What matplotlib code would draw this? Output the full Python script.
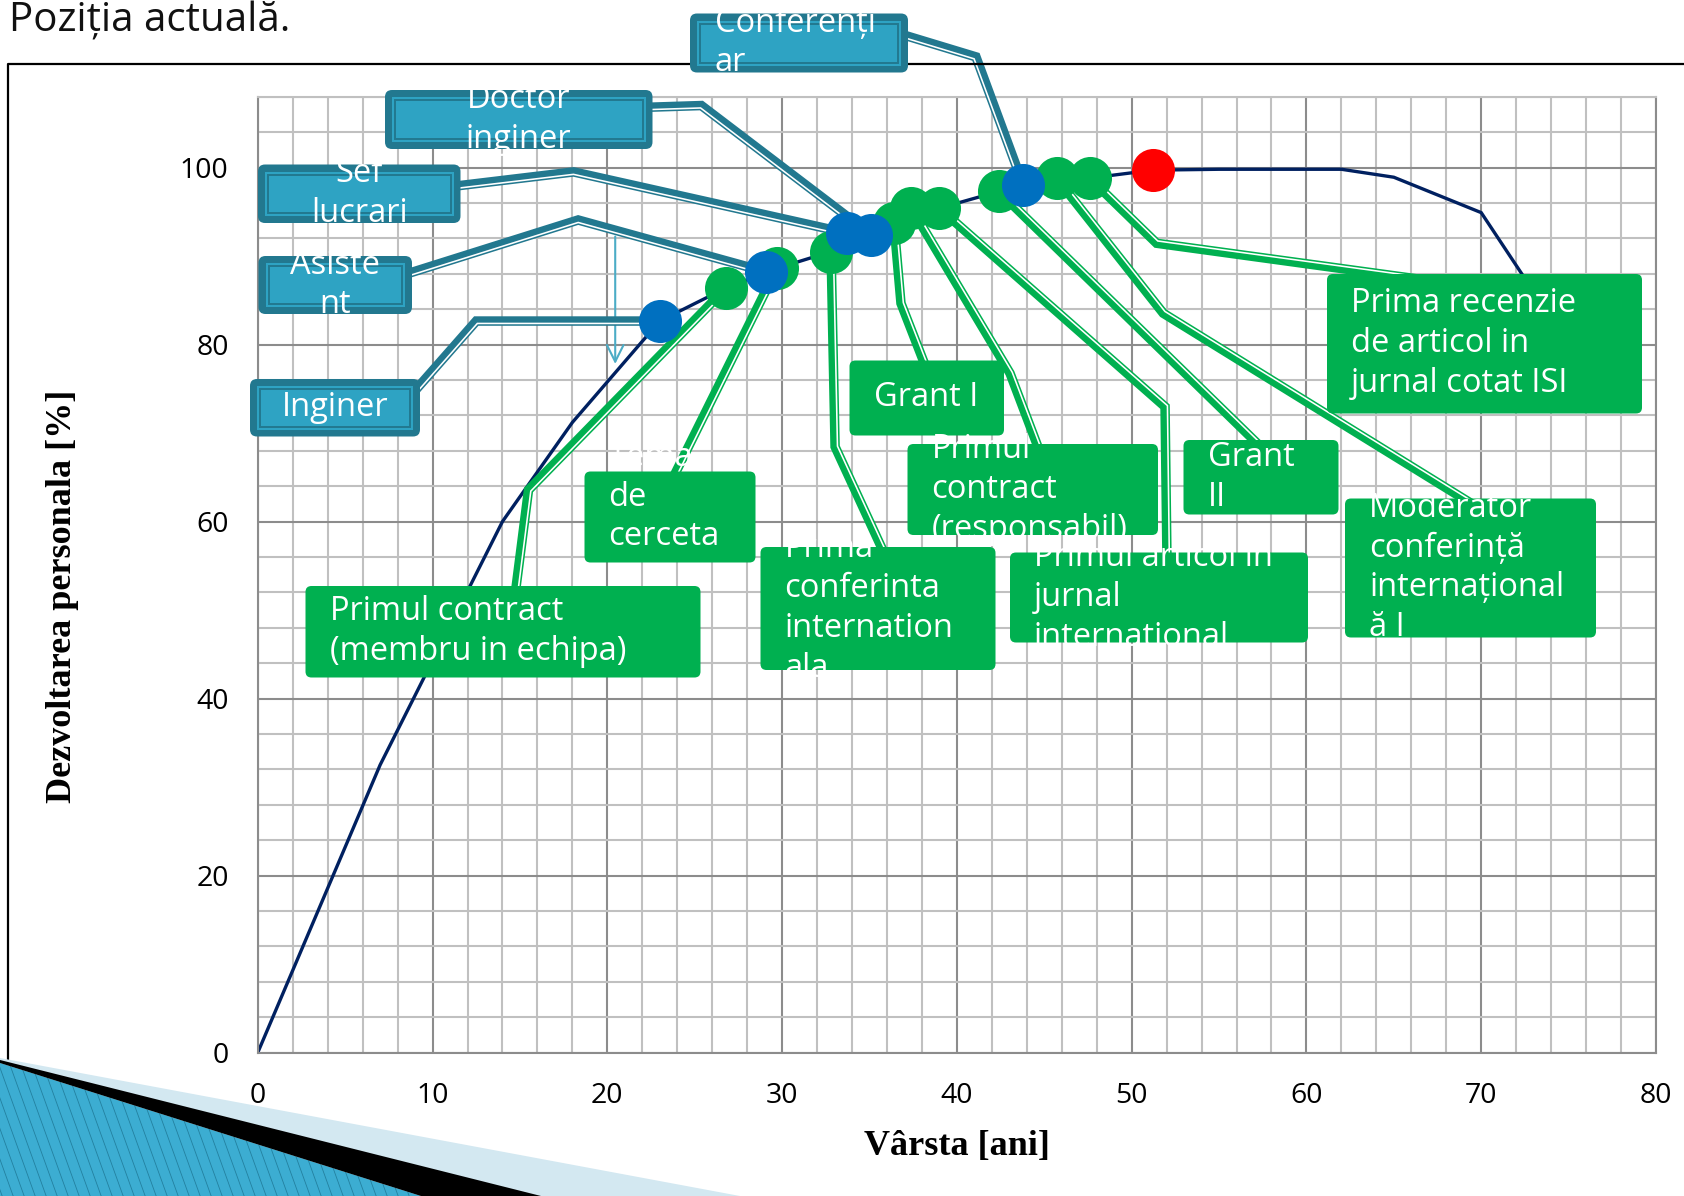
import numpy as np
import matplotlib
matplotlib.use("Agg")
import matplotlib.pyplot as plt
from matplotlib.patches import FancyBboxPatch, Polygon, Rectangle
from matplotlib.ticker import MultipleLocator

# ---------------- data ----------------
curve_age = [0, 7, 14, 18, 23.0, 26.8, 29.7, 32.8, 36.4, 37.4, 39.0, 42.4, 45.7, 47.6, 51.2, 55, 62, 65, 70, 75]
curve_dev = [0, 32.5, 60, 71.2, 82.65, 86.4, 88.6, 90.5, 93.7, 95.4, 95.4, 97.3, 98.8, 98.8, 99.7, 99.8, 99.8, 98.9, 94.9, 80]

career_labels = ["Inginer", "Asiste\nnt", "Sef\nlucrari", "Doctor\ninginer", "Conferenți\nar"]
career_age = [23.0, 29.1, 33.7, 35.1, 43.8]
career_dev = [82.65, 88.2, 92.6, 92.4, 98.0]
career_marker_of_label = [0, 1, 2, 3, 4]

event_labels = ["Primul contract\n(membru in echipa)", "Tema\nde\ncerceta\nre",
                "Prima\nconferinta\ninternation\nala", "Grant I",
                "Primul\ncontract\n(responsabil)", "Primul articol in\njurnal\ninternational",
                "Grant\nII", "Moderator\nconferință\ninternațional\nă I",
                "Prima recenzie\nde articol in\njurnal cotat ISI"]
event_age = [26.8, 29.7, 32.8, 36.4, 37.4, 39.0, 42.4, 45.7, 47.6]
event_dev = [86.4, 88.6, 90.5, 93.7, 95.4, 95.4, 97.3, 98.8, 98.8]

current_age = [51.2]
current_dev = [99.7]

arrow_age = 20.45
arrow_from, arrow_to = 92.2, 77.8

x_ticks = [0, 10, 20, 30, 40, 50, 60, 70, 80]
y_ticks = [0, 20, 40, 60, 80, 100]

# ---------------- layout (pixel boxes: left, top, right, bottom) ----------------
W, H = 1684, 1196
career_boxes = [(250, 379, 420, 436.5), (258.5, 256, 412, 314), (258, 164.5, 460.5, 223),
                (385, 90, 652.5, 149), (690, 13.5, 908, 72.5)]
career_center = [True, True, True, True, False]
# leader waypoints in data coords (start inside box, elbows)
career_paths = [[(9.0, 74.8), (12.5, 82.65)],
                [(8.4, 87.9), (18.33, 94.07)],
                [(11.3, 97.9), (18.07, 99.5)],
                [(22.2, 106.8), (25.38, 107.0)],
                [(36.74, 115.1), (41.09, 112.5)]]
event_boxes = [(305.5, 586, 700.5, 677.5), (584.5, 471.5, 755.5, 562.5), (760.5, 547, 995.5, 670),
               (849.5, 360.5, 1004, 435.5), (907.5, 444, 1158, 535), (1010, 552.5, 1308, 642.5),
               (1183.5, 440, 1338.5, 514.5), (1345, 498.5, 1596, 637.5), (1327, 274, 1642, 413.5)]
event_paths = [[(14.72, 51.7), (15.49, 63.56)],
               [(23.7, 64.7)],
               [(35.89, 56.2), (33.03, 68.45)],
               [(38.29, 77.1), (36.8, 84.66)],
               [(44.75, 67.85), (43.04, 76.75)],
               [(52.02, 55.65), (51.91, 72.97)],
               [(57.46, 68.3)],
               [(69.58, 61.86), (51.81, 83.53)],
               [(67.64, 87.06), (51.43, 91.44)]]

NAVY = "#002060"
GREEN = "#00b050"
BLUE = "#0070c0"
TEAL_D = "#22788f"
TEAL_L = "#2ea3c3"
BOXFONT = dict(family="Open Sans", size=23.5, color="white")
LSP = 1.27

fig = plt.figure(figsize=(W / 100, H / 100), dpi=100)
fig.patch.set_facecolor("white")

ax_l, ax_r, ax_t, ax_b = 257.8, 1656.0, 96.7, 1052.5
ax = fig.add_axes([ax_l / W, 1 - ax_b / H, (ax_r - ax_l) / W, (ax_b - ax_t) / H])
ax.set_zorder(1)
ax.set_xlim(0, 80)
ax.set_ylim(0, 108)
ax.set_xticks(x_ticks)
ax.set_yticks(y_ticks)
ax.xaxis.set_minor_locator(MultipleLocator(2))
ax.yaxis.set_minor_locator(MultipleLocator(4))
ax.grid(which="minor", color="#c0c0c0", lw=1.5, zorder=0)
ax.grid(which="major", color="#8c8c8c", lw=1.5, zorder=0.5)
ax.set_axisbelow(True)
ax.tick_params(which="both", length=0)
ax.tick_params(axis="y", pad=21)
ax.tick_params(axis="x", pad=21)
for lab in ax.get_xticklabels() + ax.get_yticklabels():
    lab.set_fontfamily("Open Sans")
    lab.set_fontsize(20.5)
for s in ["left", "bottom", "right"]:
    ax.spines[s].set_color("#8c8c8c")
    ax.spines[s].set_linewidth(1.5)
ax.spines["top"].set_color("#c0c0c0")
ax.spines["top"].set_linewidth(1.5)

# curve
ax.plot(curve_age, curve_dev, color=NAVY, lw=2.4, zorder=2, solid_joinstyle="miter")


def offset_polyline(P, d):
    P = np.asarray(P, float)
    segs = P[1:] - P[:-1]
    norms = []
    for s in segs:
        t = s / np.hypot(*s)
        norms.append(np.array([t[1], -t[0]]))
    out = []
    for i in range(len(P)):
        if i == 0:
            nv = norms[0]
        elif i == len(P) - 1:
            nv = norms[-1]
        else:
            a, b = norms[i - 1], norms[i]
            m = a + b
            m = m / np.linalg.norm(m)
            nv = m / np.dot(m, a)
        out.append(P[i] + d * nv)
    return np.array(out)


def leader(path, color):
    P = np.array(path, float)
    disp = ax.transData.transform(P)
    off = ax.transData.inverted().transform(offset_polyline(disp, 2.4))
    ax.plot(P[:, 0], P[:, 1], color=color, lw=9.5 * 0.72, zorder=3,
            solid_joinstyle="miter", solid_capstyle="butt", clip_on=False)
    ax.plot(off[:, 0], off[:, 1], color="white", lw=1.6 * 0.72, zorder=3.1,
            solid_joinstyle="miter", solid_capstyle="butt", clip_on=False)


for k, pts in enumerate(event_paths):
    leader(pts + [(event_age[k], event_dev[k])], GREEN)
for k, pts in enumerate(career_paths):
    m = career_marker_of_label[k]
    leader(pts + [(career_age[m], career_dev[m])], TEAL_D)

ax.plot(event_age, event_dev, "o", ms=31, color=GREEN, mec="none", zorder=4, clip_on=False)
ax.plot(career_age, career_dev, "o", ms=31, color=BLUE, mec="none", zorder=5, clip_on=False)
ax.plot(current_age, current_dev, "o", ms=31, color="red", mec="none", zorder=6, clip_on=False)

ax.annotate("", xy=(arrow_age, arrow_to), xytext=(arrow_age, arrow_from),
            arrowprops=dict(arrowstyle="->", color="#4bacc6", lw=1.5, mutation_scale=30,
                            shrinkA=0, shrinkB=0), zorder=2.5)

# ---------------- overlay in pixel coords ----------------
ov = fig.add_axes([0, 0, 1, 1])
ov.set_zorder(2)
ov.set_xlim(0, W)
ov.set_ylim(H, 0)
ov.axis("off")

# frame
ov.plot([7.5, 7.5, W + 5], [H + 5, 64, 64], color="black", lw=1.6, zorder=1, clip_on=False)

# decoration bottom-left
ov.add_patch(Polygon([(0, 1058), (740, H), (0, H)], closed=True, fc="#d3e8f1", ec="none", zorder=2))
blue_poly = Polygon([(0, 1063), (421, H), (0, H)], closed=True, fc="#3cadd2", ec="none", zorder=3)
ov.add_patch(blue_poly)
for x0 in np.arange(-120, 460, 11):
    ln, = ov.plot([x0, x0 + 0.36 * 160], [1040, 1200], color="#23809f", lw=0.6, zorder=3.2)
    ln.set_clip_path(blue_poly)
ov.add_patch(Polygon([(0, 1060), (541, H), (421, H), (0, 1063)], closed=True, fc="black", ec="none", zorder=4))

# title (at the top-left, as in the reference)
ov.text(290, 31, "Poziția actuală.", ha="right", va="baseline", family="Open Sans", size=29,
        color="#111111", zorder=5)

# axis labels
fig.text(957 / W, 1 - 1147 / H, "Vârsta [ani]", ha="center", va="center", family="Liberation Serif",
         weight="bold", size=26)
fig.text(62.3 / W, 1 - 596 / H, "Dezvoltarea personala [%]", ha="center", va="center", rotation=90,
         family="Liberation Serif", weight="bold", size=26)

# career boxes
for (l, t, r, b), lab, cen in zip(career_boxes, career_labels, career_center):
    ov.add_patch(FancyBboxPatch((l, t), r - l, b - t, boxstyle="round,pad=0,rounding_size=7",
                                fc=TEAL_D, ec="none", zorder=10))
    ov.add_patch(Rectangle((l + 7, t + 7), r - l - 14, b - t - 14, fc=TEAL_L, ec="none", zorder=10.1))
    ov.add_patch(Rectangle((l + 10, t + 10), r - l - 20, b - t - 20, fc="none", ec=TEAL_D,
                           lw=1.4, zorder=10.2))
    cy = (t + b) / 2
    if cen:
        ov.text((l + r) / 2, cy, lab, ha="center", va="center", multialignment="center",
                linespacing=LSP, zorder=12, **BOXFONT)
    else:
        ov.text(l + 25, cy, lab, ha="left", va="center", multialignment="left",
                linespacing=LSP, zorder=12, **BOXFONT)

# event boxes
for (l, t, r, b), lab in zip(event_boxes, event_labels):
    ov.add_patch(FancyBboxPatch((l, t), r - l, b - t, boxstyle="round,pad=0,rounding_size=6",
                                fc=GREEN, ec="none", zorder=10))
    ov.text(l + 24, (t + b) / 2, lab, ha="left", va="center", multialignment="left",
            linespacing=LSP, zorder=12, **BOXFONT)

fig.savefig("out.png", dpi=100)
